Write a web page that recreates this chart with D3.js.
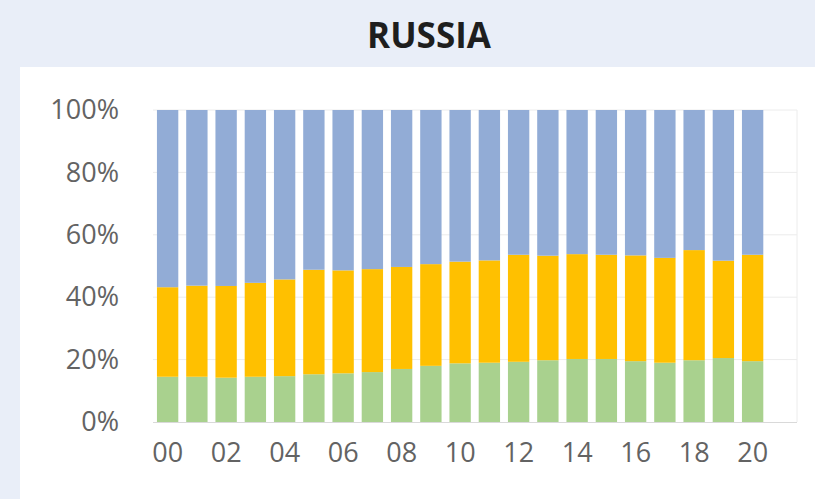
<!DOCTYPE html>
<html>
<head>
<meta charset="utf-8">
<script src="https://cdn.jsdelivr.net/npm/d3@7"></script>
<style>
  html, body { margin: 0; padding: 0; background: #e9eef8; }
  svg { display: block; }
</style>
</head>
<body>
<div id="chart"></div>
<script>
// years 2000..2020, shares in percent
const years = ['00','01','02','03','04','05','06','07','08','09','10','11','12','13','14','15','16','17','18','19','20'];
const green  = [14.5, 14.5, 14.2, 14.5, 14.7, 15.3, 15.6, 16.0, 17.0, 18.0, 18.8, 19.0, 19.3, 19.8, 20.2, 20.2, 19.5, 19.0, 19.8, 20.5, 19.5];
const yellow = [28.7, 29.2, 29.4, 30.1, 31.0, 33.5, 33.0, 33.0, 32.7, 32.6, 32.6, 32.8, 34.3, 33.5, 33.6, 33.4, 33.9, 33.6, 35.3, 31.2, 34.1];
const blue   = [56.8, 56.3, 56.4, 55.4, 54.3, 51.2, 51.4, 51.0, 50.3, 49.4, 48.6, 48.2, 46.4, 46.7, 46.2, 46.4, 46.6, 47.4, 44.9, 48.3, 46.4];
const yTicks = [0, 20, 40, 60, 80, 100];
const xTickLabels = ['00','02','04','06','08','10','12','14','16','18','20'];

const seriesKeys = ['green', 'yellow', 'blue'];
const colors = { green: '#a9d18e', yellow: '#ffc000', blue: '#92acd6' };

const width = 815, height = 499;
const plot = { left: 153, right: 797, top: 110, bottom: 422 };

const table = years.map((y, i) => ({ year: y, green: green[i], yellow: yellow[i], blue: blue[i] }));
const stacked = d3.stack().keys(seriesKeys)(table);

const svg = d3.select('#chart').append('svg')
    .attr('width', width)
    .attr('height', height);

// white panel
svg.append('rect')
    .attr('x', 20).attr('y', 67)
    .attr('width', width - 20).attr('height', height - 67)
    .attr('fill', '#ffffff');

svg.append('text')
    .attr('x', 429).attr('y', 48)
    .attr('text-anchor', 'middle')
    .style('font-family', '"Open Sans", sans-serif')
    .style('font-weight', 'bold')
    .style('font-size', '35px')
    .style('fill', '#1e1e1e')
    .text('RUSSIA');

const x = d3.scaleBand()
    .domain(years)
    .range([plot.left, plot.left + 29.25 * years.length])
    .paddingInner(0.27)
    .paddingOuter(0.135);

const y = d3.scaleLinear()
    .domain([0, 100])
    .range([plot.bottom, plot.top]);

// faint gridlines
svg.append('g')
    .selectAll('line')
    .data(yTicks.filter(d => d > 0))
    .join('line')
    .attr('x1', plot.left).attr('x2', plot.right)
    .attr('y1', d => y(d)).attr('y2', d => y(d))
    .attr('stroke', '#ececec')
    .attr('stroke-width', 1);

svg.append('line')
    .attr('x1', plot.right).attr('x2', plot.right)
    .attr('y1', plot.top).attr('y2', plot.bottom)
    .attr('stroke', '#ececec');

// bars
svg.append('g')
    .selectAll('g')
    .data(stacked)
    .join('g')
    .attr('fill', d => colors[d.key])
    .selectAll('rect')
    .data(d => d)
    .join('rect')
    .attr('x', d => x(d.data.year))
    .attr('width', x.bandwidth())
    .attr('y', d => y(d[1]))
    .attr('height', d => y(d[0]) - y(d[1]));

// x axis line
svg.append('line')
    .attr('x1', plot.left).attr('x2', plot.right)
    .attr('y1', plot.bottom + 0.5).attr('y2', plot.bottom + 0.5)
    .attr('stroke', '#d9d9d9');

// y axis labels
const yAxis = d3.axisLeft(y)
    .tickValues(yTicks)
    .tickFormat(d => d + '%')
    .tickSize(0)
    .tickPadding(0);

svg.append('g')
    .attr('transform', `translate(119,0)`)
    .call(yAxis)
    .call(g => g.select('.domain').remove())
    .call(g => g.selectAll('text')
        .style('font-family', '"Open Sans", sans-serif')
        .style('font-size', '27px')
        .style('fill', '#636363'));

// x axis labels
const xAxis = d3.axisBottom(x)
    .tickValues(xTickLabels)
    .tickSize(0)
    .tickPadding(0);

svg.append('g')
    .attr('transform', `translate(0,443)`)
    .call(xAxis)
    .call(g => g.select('.domain').remove())
    .call(g => g.selectAll('text')
        .style('font-family', '"Open Sans", sans-serif')
        .style('font-size', '27px')
        .style('fill', '#636363'));
</script>
</body>
</html>
